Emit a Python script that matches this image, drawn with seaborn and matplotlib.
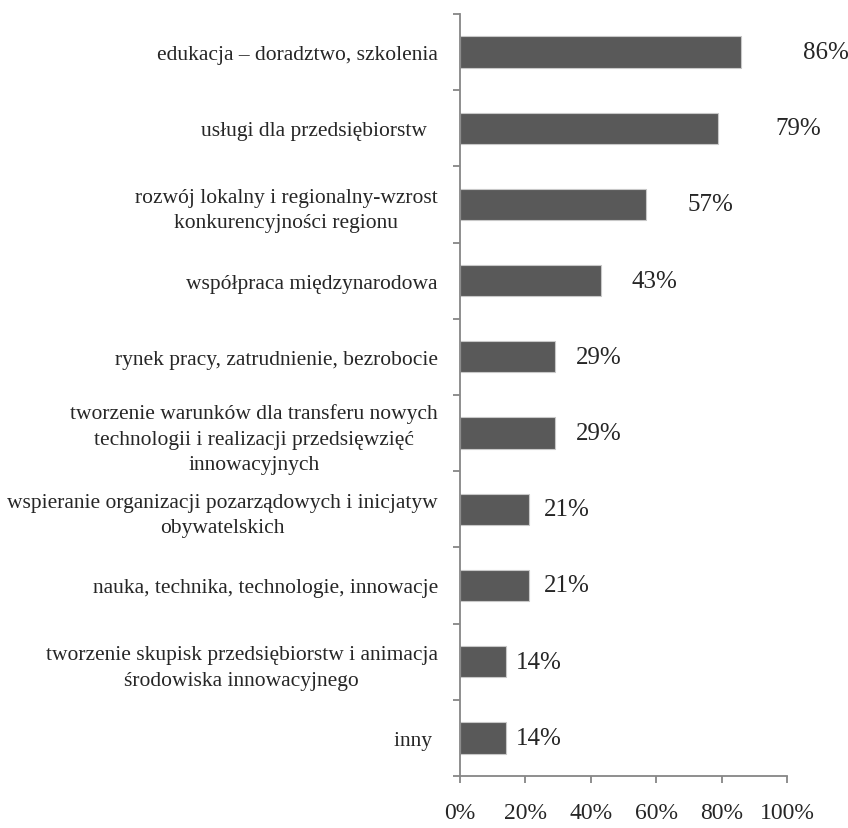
import numpy as np
import pandas as pd
import matplotlib
matplotlib.use("Agg")
import matplotlib.pyplot as plt
import seaborn as sns
from matplotlib.ticker import FixedLocator

# data
categories = [
    "edukacja – doradztwo, szkolenia",
    "usługi dla przedsiębiorstw  ",
    "rozwój lokalny i regionalny-wzrost\nkonkurencyjności regionu",
    "współpraca międzynarodowa",
    "rynek pracy, zatrudnienie, bezrobocie",
    "tworzenie warunków dla transferu nowych\ntechnologii i realizacji przedsięwzięć\ninnowacyjnych",
    "wspieranie organizacji pozarządowych i inicjatyw\nobywatelskich",
    "nauka, technika, technologie, innowacje",
    "tworzenie skupisk przedsiębiorstw i animacja\nśrodowiska innowacyjnego",
    "inny ",
]
shares = [0.86, 0.79, 0.57, 0.43, 0.29, 0.29, 0.21, 0.21, 0.14, 0.14]
x_ticks = [0, 0.2, 0.4, 0.6, 0.8, 1.0]
x_tick_labels = ["0%", "20%", "40%", "60%", "80%", "100%"]

df = pd.DataFrame({"kategoria": categories, "udzial": shares})

sns.set_style("white")
plt.rcParams["font.family"] = ["Liberation Serif", "DejaVu Serif"]

fig = plt.figure(figsize=(8.48, 8.29), dpi=100)
ax = fig.add_axes([0.5425, 0.0627, 0.3855, 0.9193])

sns.barplot(data=df, x="udzial", y="kategoria", orient="h", color="#595959",
            saturation=1, width=0.41, edgecolor="#c8c8c8", linewidth=0.8, ax=ax)

ax.set_xlim(0, 1.0)
ax.set_ylim(len(categories) - 0.5, -0.5)
ax.set_xlabel("")
ax.set_ylabel("")

# spines
for side in ["top", "right"]:
    ax.spines[side].set_visible(False)
for side in ["left", "bottom"]:
    ax.spines[side].set_color("#868686")
    ax.spines[side].set_linewidth(1.3)

# x axis
ax.set_xticks(x_ticks)
ax.set_xticklabels(x_tick_labels, fontsize=17)
ax.tick_params(axis="x", bottom=True, direction="out", length=5, width=1.3,
               color="#868686", pad=14)

# y axis: category labels, ticks at the boundaries
ax.set_yticks(range(len(categories)))
ax.set_yticklabels(categories, fontsize=15.5, linespacing=1.45,
                   multialignment="center")
ax.tick_params(axis="y", which="major", left=False, length=0, pad=16)
ax.yaxis.set_minor_locator(FixedLocator(np.arange(-0.5, len(categories), 1.0)))
ax.tick_params(axis="y", which="minor", left=True, direction="out", length=5,
               width=1.3, color="#868686")

# value labels (in the original they sit further out for longer bars)
for i, v in enumerate(shares):
    ax.annotate(f"{v * 100:.0f}%", xy=(v * 1.22, i), xytext=(0, 0),
                textcoords="offset points", va="center", ha="left", fontsize=18,
                annotation_clip=False)

fig.savefig("out.png", dpi=100)
